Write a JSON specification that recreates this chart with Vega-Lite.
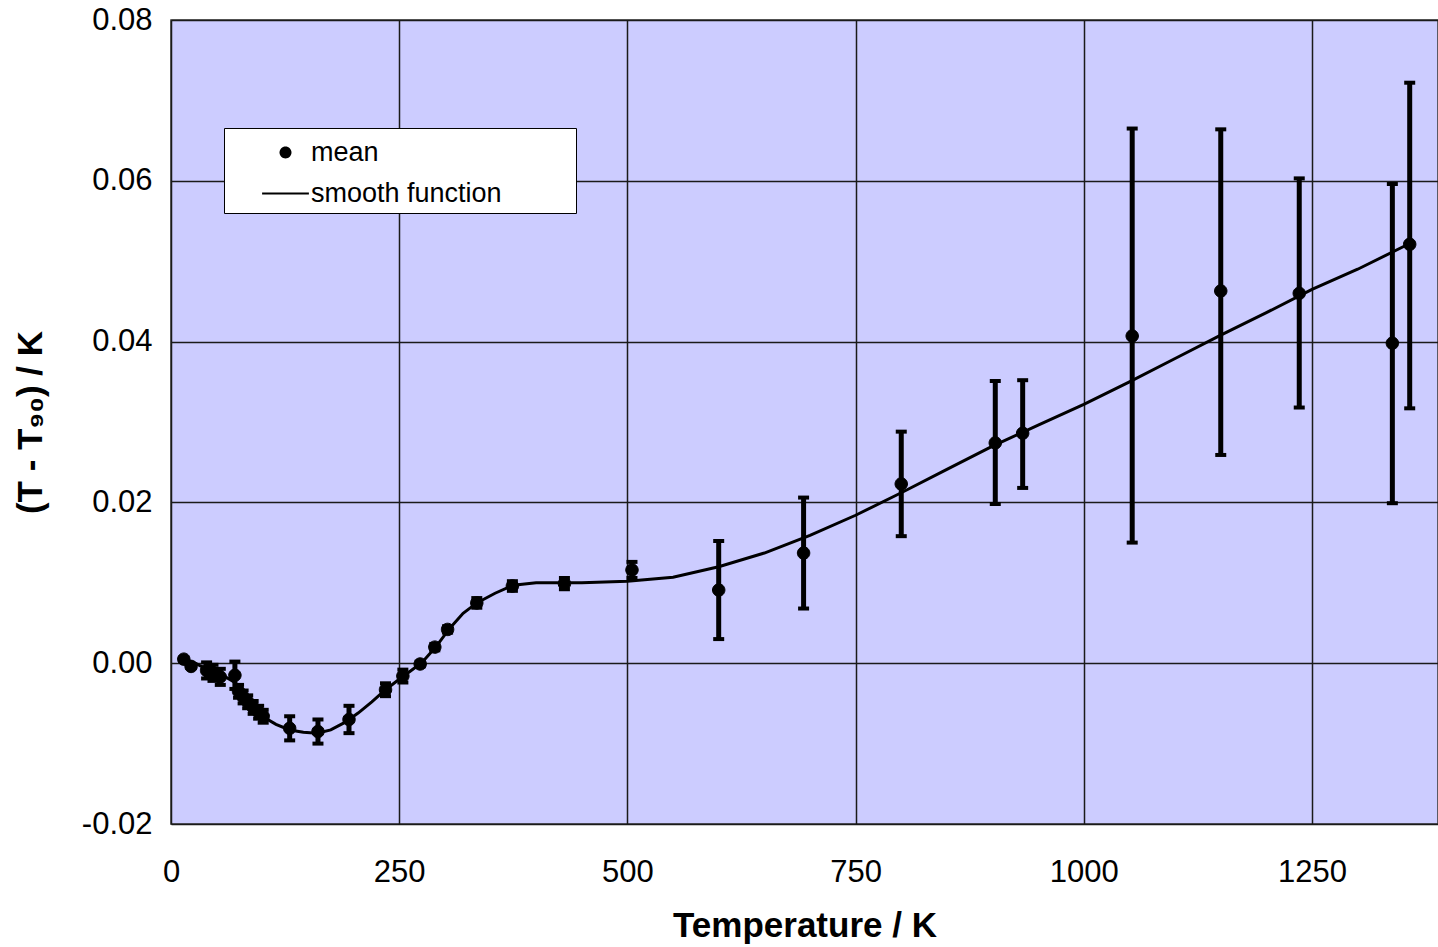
{
  "$schema": "https://vega.github.io/schema/vega-lite/v6.json",
  "width": 1267,
  "height": 804,
  "autosize": {"type": "none"},
  "padding": {"left": 171, "top": 20, "right": 0, "bottom": 123},
  "background": "white",
  "config": {
    "view": {"fill": "#CCCCFF", "stroke": "#333333", "strokeWidth": 1.5},
    "font": "Liberation Sans",
    "axis": {
      "domain": false,
      "ticks": false,
      "grid": true,
      "gridColor": "#1a1a1a",
      "gridWidth": 1.5,
      "gridOpacity": 1,
      "labelColor": "black",
      "labelFont": "Liberation Sans",
      "labelFontSize": 31,
      "titleColor": "black",
      "titleFont": "Liberation Sans",
      "titleFontWeight": "bold",
      "titleFontSize": 35
    }
  },
  "datasets": {
    "mean": [
      {"T": 14, "v": 0.0005, "lo": 0.0003, "hi": 0.0007, "series": "mean"},
      {"T": 22, "v": -0.0004, "lo": -0.0006, "hi": -0.0002, "series": "mean"},
      {"T": 39, "v": -0.0009, "lo": -0.0019, "hi": 0.0001, "series": "mean"},
      {"T": 46, "v": -0.0012, "lo": -0.0022, "hi": -0.0002, "series": "mean"},
      {"T": 54, "v": -0.0017, "lo": -0.0027, "hi": -0.0007, "series": "mean"},
      {"T": 70, "v": -0.0015, "lo": -0.0032, "hi": 0.0002, "series": "mean"},
      {"T": 74, "v": -0.0035, "lo": -0.0043, "hi": -0.0027, "series": "mean"},
      {"T": 79, "v": -0.0042, "lo": -0.0050, "hi": -0.0034, "series": "mean"},
      {"T": 84, "v": -0.0048, "lo": -0.0056, "hi": -0.0040, "series": "mean"},
      {"T": 90, "v": -0.0055, "lo": -0.0063, "hi": -0.0047, "series": "mean"},
      {"T": 96, "v": -0.0061, "lo": -0.0069, "hi": -0.0053, "series": "mean"},
      {"T": 101, "v": -0.0066, "lo": -0.0074, "hi": -0.0058, "series": "mean"},
      {"T": 130, "v": -0.0081, "lo": -0.0096, "hi": -0.0066, "series": "mean"},
      {"T": 161, "v": -0.0085, "lo": -0.0100, "hi": -0.0070, "series": "mean"},
      {"T": 195, "v": -0.0070, "lo": -0.0087, "hi": -0.0053, "series": "mean"},
      {"T": 235, "v": -0.0033, "lo": -0.0041, "hi": -0.0025, "series": "mean"},
      {"T": 254, "v": -0.0016, "lo": -0.0024, "hi": -0.0008, "series": "mean"},
      {"T": 273, "v": -0.0001, "lo": -0.0004, "hi": 0.0002, "series": "mean"},
      {"T": 289, "v": 0.0020, "lo": 0.0016, "hi": 0.0024, "series": "mean"},
      {"T": 303, "v": 0.0042, "lo": 0.0038, "hi": 0.0046, "series": "mean"},
      {"T": 335, "v": 0.0075, "lo": 0.0069, "hi": 0.0081, "series": "mean"},
      {"T": 374, "v": 0.0096, "lo": 0.0090, "hi": 0.0102, "series": "mean"},
      {"T": 431, "v": 0.0099, "lo": 0.0092, "hi": 0.0106, "series": "mean"},
      {"T": 505, "v": 0.0116, "lo": 0.0106, "hi": 0.0126, "series": "mean"},
      {"T": 600, "v": 0.0091, "lo": 0.0030, "hi": 0.0152, "series": "mean"},
      {"T": 693, "v": 0.0137, "lo": 0.0068, "hi": 0.0206, "series": "mean"},
      {"T": 800, "v": 0.0223, "lo": 0.0158, "hi": 0.0288, "series": "mean"},
      {"T": 903, "v": 0.0274, "lo": 0.0198, "hi": 0.0351, "series": "mean"},
      {"T": 933, "v": 0.0286, "lo": 0.0218, "hi": 0.0352, "series": "mean"},
      {"T": 1053, "v": 0.0407, "lo": 0.0150, "hi": 0.0665, "series": "mean"},
      {"T": 1150, "v": 0.0463, "lo": 0.0259, "hi": 0.0664, "series": "mean"},
      {"T": 1236, "v": 0.0460, "lo": 0.0318, "hi": 0.0603, "series": "mean"},
      {"T": 1338, "v": 0.0398, "lo": 0.0199, "hi": 0.0596, "series": "mean"},
      {"T": 1357, "v": 0.0521, "lo": 0.0317, "hi": 0.0722, "series": "mean"}
    ],
    "smooth": [
      {"T": 14, "v": 0.0005}, {"T": 25, "v": 0.0001}, {"T": 40, "v": -0.0008},
      {"T": 55, "v": -0.0014}, {"T": 70, "v": -0.0024}, {"T": 80, "v": -0.0037},
      {"T": 90, "v": -0.0052}, {"T": 100, "v": -0.0066}, {"T": 115, "v": -0.0076},
      {"T": 130, "v": -0.0083}, {"T": 145, "v": -0.0086}, {"T": 160, "v": -0.0087},
      {"T": 175, "v": -0.0083}, {"T": 190, "v": -0.0074}, {"T": 205, "v": -0.0062},
      {"T": 220, "v": -0.0048}, {"T": 235, "v": -0.0033}, {"T": 250, "v": -0.0020},
      {"T": 262, "v": -0.0010}, {"T": 275, "v": 0.0001}, {"T": 290, "v": 0.0020},
      {"T": 305, "v": 0.0043}, {"T": 320, "v": 0.0062}, {"T": 335, "v": 0.0075},
      {"T": 355, "v": 0.0087}, {"T": 375, "v": 0.0097}, {"T": 400, "v": 0.0100},
      {"T": 450, "v": 0.0100}, {"T": 500, "v": 0.0102}, {"T": 550, "v": 0.0107},
      {"T": 600, "v": 0.0120}, {"T": 650, "v": 0.0137}, {"T": 700, "v": 0.0159},
      {"T": 750, "v": 0.0184}, {"T": 800, "v": 0.0212}, {"T": 850, "v": 0.0241},
      {"T": 900, "v": 0.0270}, {"T": 950, "v": 0.0296}, {"T": 1000, "v": 0.0322},
      {"T": 1050, "v": 0.0350}, {"T": 1100, "v": 0.0379}, {"T": 1150, "v": 0.0408},
      {"T": 1200, "v": 0.0436}, {"T": 1250, "v": 0.0465}, {"T": 1300, "v": 0.0490},
      {"T": 1357, "v": 0.0522}
    ]
  },
  "encoding": {
    "x": {
      "field": "T", "type": "quantitative",
      "scale": {"domain": [0, 1388], "nice": false, "zero": false},
      "axis": {"values": [0, 250, 500, 750, 1000, 1250], "format": "d", "labelFlush": false, "labelPadding": 33, "title": "Temperature / K", "titlePadding": 21}
    },
    "y": {
      "field": "v", "type": "quantitative",
      "scale": {"domain": [-0.02, 0.08], "nice": false},
      "axis": {"values": [-0.02, 0, 0.02, 0.04, 0.06, 0.08], "format": ".2f", "labelExpr": "replace(datum.label, '\u2212', '-')", "labelPadding": 19, "title": "(T - T₉₀) / K", "titlePadding": 33}
    }
  },
  "layer": [
    {
      "data": {"name": "smooth"},
      "mark": {"type": "line", "color": "black", "strokeWidth": 3, "clip": true},
      "encoding": {}
    },
    {
      "data": {"name": "mean"},
      "mark": {"type": "rule", "color": "black", "strokeWidth": 5},
      "encoding": {"y": {"field": "lo", "type": "quantitative"}, "y2": {"field": "hi"}}
    },
    {
      "data": {"name": "mean"},
      "mark": {"type": "tick", "color": "black", "orient": "horizontal", "size": 11, "thickness": 4, "opacity": 1},
      "encoding": {"y": {"field": "lo", "type": "quantitative"}}
    },
    {
      "data": {"name": "mean"},
      "mark": {"type": "tick", "color": "black", "orient": "horizontal", "size": 11, "thickness": 4, "opacity": 1},
      "encoding": {"y": {"field": "hi", "type": "quantitative"}}
    },
    {
      "data": {"name": "mean"},
      "mark": {"type": "point", "filled": false, "fill": "black", "stroke": "black", "strokeWidth": 1, "opacity": 1, "size": 1400},
      "encoding": {
        "shape": {
          "field": "series", "type": "nominal",
          "scale": {"domain": ["mean", "smooth function"], "range": ["M0.333,0A0.333,0.333 0 1,1 -0.333,0A0.333,0.333 0 1,1 0.333,0Z", "M-1.3,-0.05L1.3,-0.05L1.3,0.05L-1.3,0.05ZM15.65,0"]},
          "legend": {
            "title": null,
            "orient": "none",
            "legendX": 53,
            "legendY": 108,
            "fillColor": "white",
            "strokeColor": "black",
            "cornerRadius": 0,
            "padding": 6,
            "symbolSize": 1296,
            "symbolFillColor": "black",
            "symbolStrokeColor": "black",
            "symbolStrokeWidth": 1,
            "symbolOpacity": 1,
            "symbolOffset": 37,
            "labelOffset": 7,
            "labelFont": "Liberation Sans",
            "labelFontSize": 27,
            "labelColor": "black",
            "labelLimit": 700,
            "rowPadding": 9,
            "encode": {
              "symbols": {
                "stroke": {"value": "black"},
                "strokeWidth": {"value": 1},
                "fill": {"value": "black"},
                "opacity": {"value": 1}
              }
            }
          }
        }
      }
    }
  ]
}
